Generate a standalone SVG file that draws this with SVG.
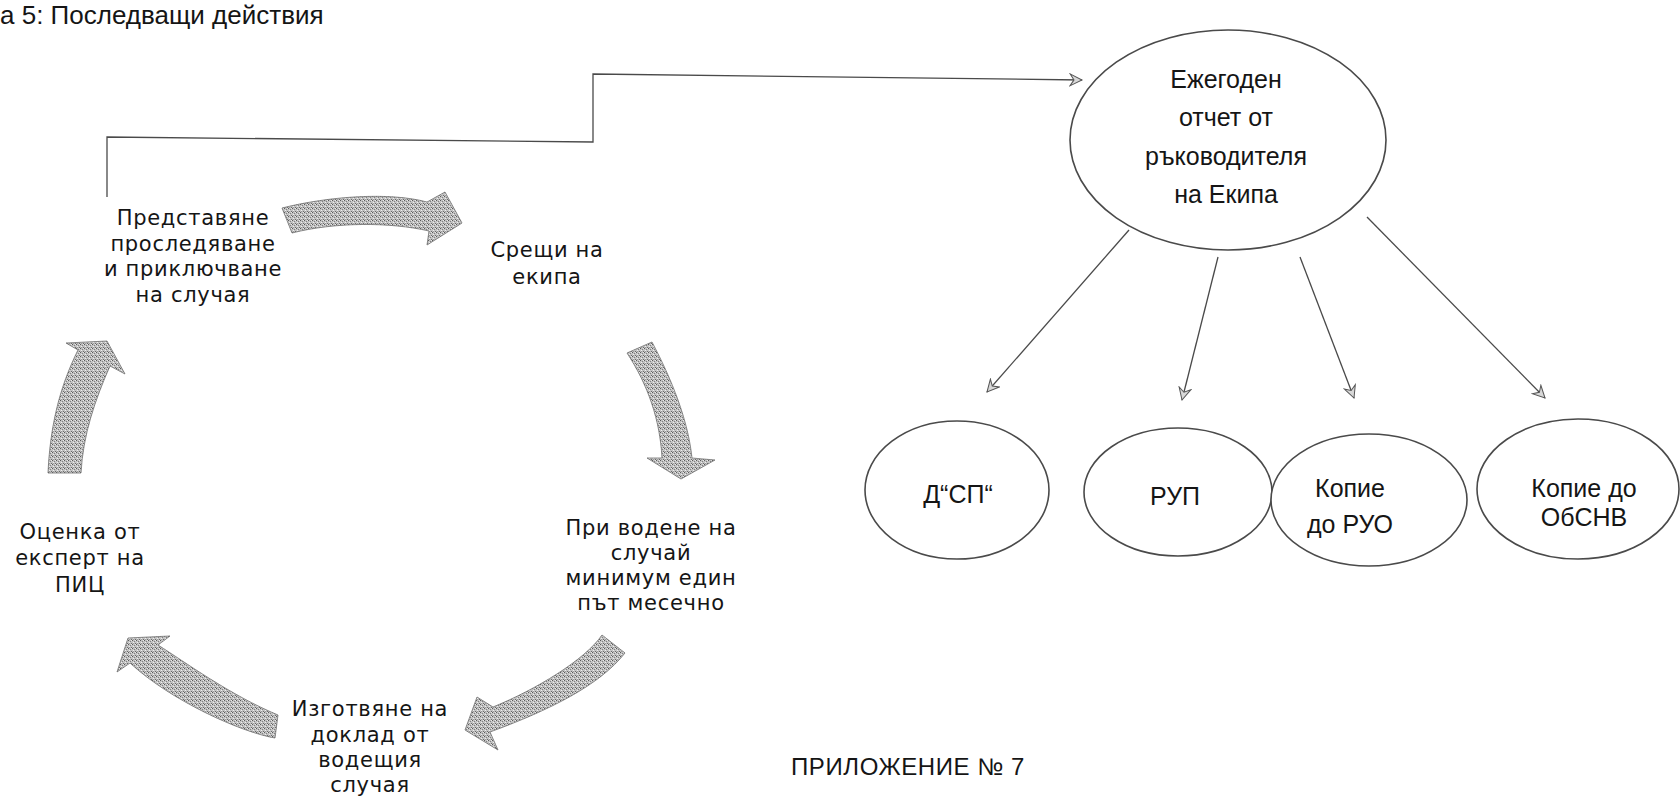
<svg xmlns="http://www.w3.org/2000/svg" width="1680" height="797" viewBox="0 0 1680 797">
<style>
.lbl{font-family:"DejaVu Sans","Noto Sans",sans-serif;font-size:21px;fill:#151515;text-anchor:middle;letter-spacing:0.7px}
.rlbl{font-family:"Liberation Sans",Arial,sans-serif;font-size:25px;fill:#151515;text-anchor:middle}
.title{font-family:"Liberation Sans",Arial,sans-serif;font-size:26px;fill:#151515}
.node{fill:#fff;stroke:#4a4a4a;stroke-width:1.6}
.conn{fill:none;stroke:#4a4a4a;stroke-width:1.3}
.blk{fill:url(#tex);stroke:#707070;stroke-width:0.8}
</style>
<defs>
<pattern id="tex" width="4" height="4" patternUnits="userSpaceOnUse">
<rect width="4" height="4" fill="#c2c2c2"/>
<rect x="0" y="0" width="1" height="1" fill="#5a5a5a"/>
<rect x="2" y="1" width="1" height="1" fill="#808080"/>
<rect x="1" y="2" width="1" height="1" fill="#eeeeee"/>
<rect x="3" y="3" width="1" height="1" fill="#6a6a6a"/>
<rect x="3" y="0" width="1" height="1" fill="#e8e8e8"/>
<rect x="1" y="3" width="1" height="1" fill="#9a9a9a"/>
</pattern>
<marker id="arr" markerUnits="userSpaceOnUse" markerWidth="16" markerHeight="14" refX="13" refY="7" orient="auto">
<path d="M1,1 L13,7 L1,13 L5,7 Z" fill="#d8d8d8" stroke="#555" stroke-width="1"/>
</marker>
</defs>
<rect width="1680" height="797" fill="#fff"/>

<text class="title" x="0" y="24">а 5: Последващи действия</text>

<g id="connectors">
<path class="conn" d="M107,197 L107,137 L593,142 L593,74 L1082,80" stroke-width="1.5" marker-end="url(#arr)"/>
<line class="conn" x1="1129" y1="230" x2="987" y2="392" marker-end="url(#arr)"/>
<line class="conn" x1="1218" y1="257" x2="1182" y2="400" marker-end="url(#arr)"/>
<line class="conn" x1="1300" y1="257" x2="1354" y2="398" marker-end="url(#arr)"/>
<line class="conn" x1="1367" y1="217" x2="1545" y2="398" marker-end="url(#arr)"/>
<g id="cycle-arrows">
<path class="blk" d="M282,208 C330,196 390,192 427,202 L445,192 L462,223 L427,245 L429,231 C390,222 335,222 292,233 Z"/>
<path class="blk" d="M627,353 L652,342 C672,380 688,420 692,458 L715,460 L681,479 L647,458 L662,458 C660,420 648,385 627,353 Z"/>
<path class="blk" d="M602,635 L625,653 C600,685 550,710 490,732 L498,750 L465,730 L477,697 L493,707 C535,690 585,660 602,635 Z"/>
<path class="blk" d="M278,715 L275,738 C240,732 170,700 130,663 L117,672 L128,638 L170,636 L158,645 C185,662 230,695 278,715 Z"/>
<path class="blk" d="M48,473 C50,430 58,390 78,350 L66,343 L107,341 L125,374 L110,366 C95,400 83,435 81,473 Z"/>
</g>
</g>

<g id="step-present">
<text class="lbl" x="193" y="225">Представяне</text>
<text class="lbl" x="193" y="251">проследяване</text>
<text class="lbl" x="193" y="276">и приключване</text>
<text class="lbl" x="193" y="302">на случая</text>
</g>
<g id="step-meetings">
<text class="lbl" x="547" y="257">Срещи на</text>
<text class="lbl" x="547" y="284">екипа</text>
</g>
<g id="step-monthly">
<text class="lbl" x="651" y="535">При водене на</text>
<text class="lbl" x="651" y="560">случай</text>
<text class="lbl" x="651" y="585">минимум един</text>
<text class="lbl" x="651" y="610">път месечно</text>
</g>
<g id="step-report">
<text class="lbl" x="370" y="716">Изготвяне на</text>
<text class="lbl" x="370" y="742">доклад от</text>
<text class="lbl" x="370" y="767">водещия</text>
<text class="lbl" x="370" y="792">случая</text>
</g>
<g id="step-assessment">
<text class="lbl" x="80" y="539">Оценка от</text>
<text class="lbl" x="80" y="565">експерт на</text>
<text class="lbl" x="80" y="592">ПИЦ</text>
</g>

<g id="annual-report">
<ellipse class="node" cx="1228" cy="140" rx="158" ry="110"/>
<text class="rlbl" x="1226" y="88">Ежегоден</text>
<text class="rlbl" x="1226" y="126">отчет от</text>
<text class="rlbl" x="1226" y="165">ръководителя</text>
<text class="rlbl" x="1226" y="203">на Екипа</text>
</g>
<g id="dsp">
<ellipse class="node" cx="957" cy="490" rx="92" ry="69"/>
<text class="rlbl" x="958" y="503" font-size="28">Д“СП“</text>
</g>
<g id="rup">
<ellipse class="node" cx="1178" cy="492" rx="94" ry="64"/>
<text class="rlbl" x="1175" y="505">РУП</text>
</g>
<g id="ruo">
<ellipse class="node" cx="1369" cy="500" rx="98" ry="66"/>
<text class="rlbl" x="1350" y="497">Копие</text>
<text class="rlbl" x="1350" y="533">до РУО</text>
</g>
<g id="obsnv">
<ellipse class="node" cx="1578" cy="489" rx="101" ry="70"/>
<text class="rlbl" x="1584" y="497">Копие до</text>
<text class="rlbl" x="1584" y="526">ОбСНВ</text>
</g>

<text id="appendix" x="908" y="775" font-family="Liberation Sans, Arial, sans-serif" font-size="24" fill="#151515" text-anchor="middle" letter-spacing="0.6">ПРИЛОЖЕНИЕ № 7</text>
</svg>
